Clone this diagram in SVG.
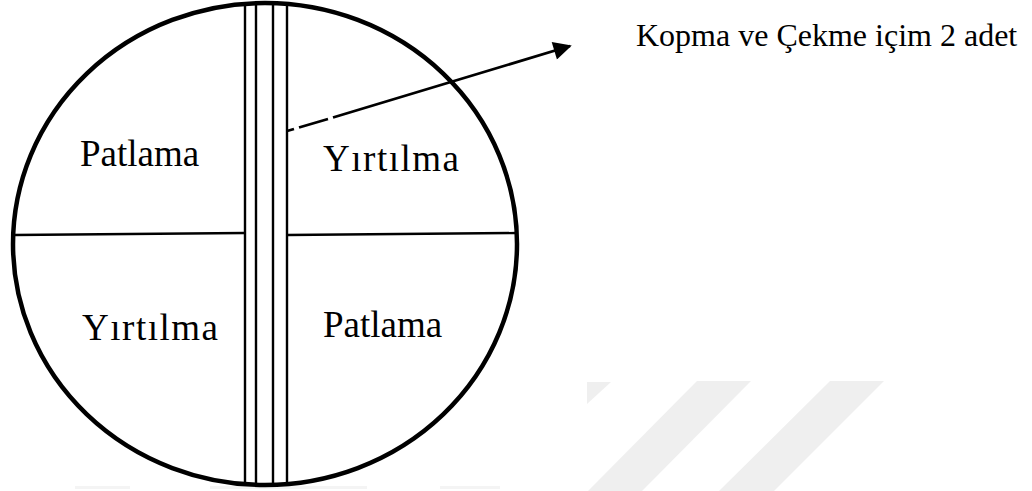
<svg xmlns="http://www.w3.org/2000/svg" width="1032" height="491" viewBox="0 0 1032 491">
<defs>
<style>
.lbl{font-family:"Liberation Serif","Times New Roman",serif;font-size:37px;fill:#000}
.note{font-family:"Liberation Serif","Times New Roman",serif;font-size:32px;fill:#000}
.ln{stroke:#000;fill:none}
.wm{fill:#efefef}
.wm2{fill:#f4f4f4}
</style>
<marker id="ah" viewBox="0 0 10 10" refX="9" refY="5" markerWidth="8" markerHeight="6.5" orient="auto" markerUnits="strokeWidth">
<path d="M0,0 L10,5 L0,10 z" fill="#000"/>
</marker>
</defs>
<rect width="1032" height="491" fill="#fff"/>
<g id="watermark">
<polygon class="wm" points="587,382 611,382 587,404"/>
<polygon class="wm" points="697,381 751,381 642,491 588,491"/>
<polygon class="wm" points="830,381 884,381 774,491 719,491"/>
<rect class="wm2" x="75" y="486" width="55" height="3"/>
<rect class="wm2" x="210" y="486" width="120" height="3"/>
<rect class="wm2" x="312" y="486" width="55" height="3"/>
<rect class="wm2" x="440" y="486" width="60" height="3"/>
</g>
<g id="disk">
<line class="ln" x1="245" y1="4" x2="245" y2="484" stroke-width="2.4"/>
<line class="ln" x1="256" y1="4" x2="256" y2="484" stroke-width="2.4"/>
<line class="ln" x1="273" y1="4" x2="273" y2="484" stroke-width="2.4"/>
<line class="ln" x1="287" y1="4" x2="287" y2="484" stroke-width="2.4"/>
<line class="ln" x1="14" y1="235" x2="245" y2="233" stroke-width="2.4"/>
<line class="ln" x1="287" y1="235" x2="517" y2="233" stroke-width="2.4"/>
<ellipse class="ln" cx="265" cy="244" rx="252" ry="241" stroke-width="4.5"/>
</g>
<g id="q1"><text class="lbl" x="80" y="166">Patlama</text></g>
<g id="q2"><text class="lbl" x="323" y="171" textLength="136">Yırtılma</text></g>
<g id="q3"><text class="lbl" x="82" y="340" textLength="136">Yırtılma</text></g>
<g id="q4"><text class="lbl" x="323" y="337">Patlama</text></g>
<g id="note"><text class="note" x="636" y="46">Kopma ve Çekme içim 2 adet</text></g>
<g id="connectors">
<path class="ln" d="M287,131 L294,129 M299,127.5 L328,119 M333,117.5 L570,46" stroke-width="2.8" marker-end="url(#ah)"/>
</g>
</svg>
